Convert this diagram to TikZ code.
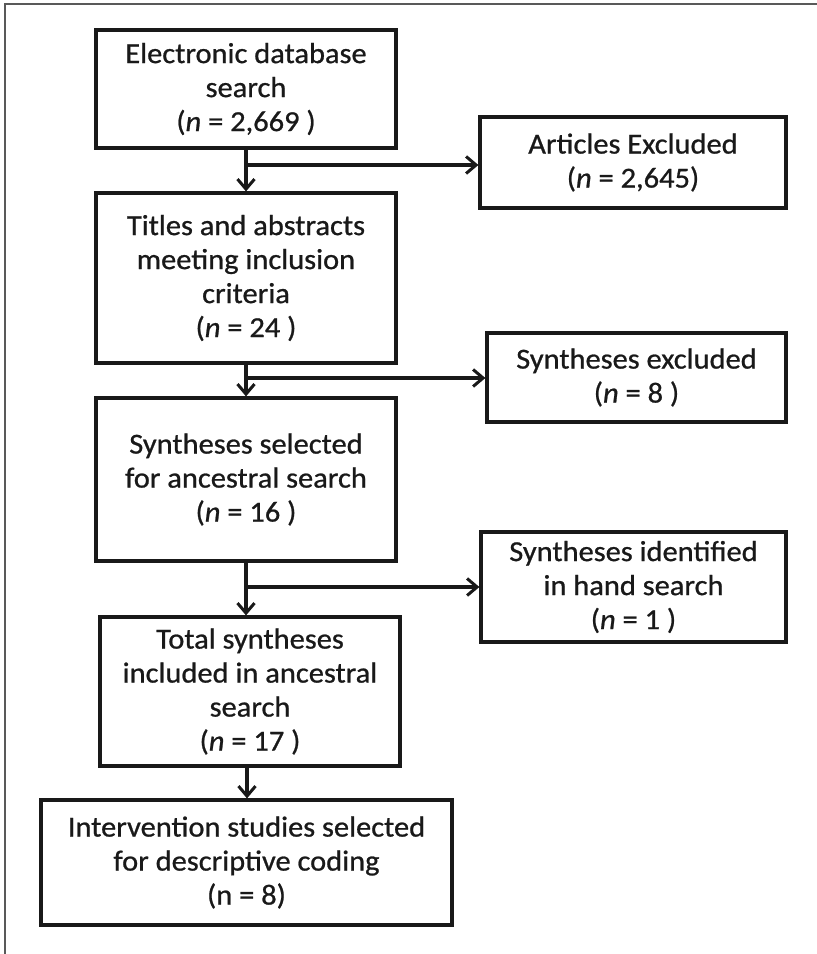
\documentclass[tikz,border=0pt]{standalone}
\usepackage{fontspec}
\setmainfont{Carlito}[FakeStretch=1.05,FakeBold=0.8]
\usetikzlibrary{arrows.meta,calc}
\begin{document}
\begin{tikzpicture}[x=1pt,y=-1pt,
  box/.style={draw=black!90, line width=3.2pt, align=center, inner sep=0pt,
    font=\fontsize{29}{34}\selectfont, text=black!90},
  conn/.style={draw=black!90, line width=3.4pt,
    -{Straight Barb[length=10pt,width=17pt,line width=3pt]}},
  frameline/.style={draw=black!65, line width=2pt}]
\useasboundingbox (0,0) rectangle (817,954);
\draw[frameline] (4.5,954) -- (4.5,4) -- (817,4);

\node[box, minimum width=300pt, minimum height=118pt] (ed) at (246,89)
  {Electronic database\\search\\(\textit{n} = 2,669 )};
\node[box, minimum width=300pt, minimum height=170pt] (ta) at (246,278)
  {Titles and abstracts\\meeting inclusion\\criteria\\(\textit{n} = 24 )};
\node[box, minimum width=300pt, minimum height=163pt] (ss) at (246,479.5)
  {Syntheses selected\\for ancestral search\\(\textit{n} = 16 )};
\node[box, minimum width=300pt, minimum height=149pt] (ts) at (250,691.5)
  {Total syntheses\\included in ancestral\\search\\(\textit{n} = 17 )};
\node[box, minimum width=411pt, minimum height=125pt] (is) at (246.5,862.5)
  {Intervention studies selected\\for descriptive coding\\(n = 8)};

\node[box, minimum width=306pt, minimum height=91pt] (ae) at (633,162.5)
  {Articles Excluded\\(\textit{n} = 2,645)};
\node[box, minimum width=299pt, minimum height=89pt] (se) at (636.5,377.5)
  {Syntheses excluded\\(\textit{n} = 8 )};
\node[box, minimum width=305pt, minimum height=110pt] (hs) at (633.5,587)
  {Syntheses identified\\in hand search\\(\textit{n} = 1 )};

\coordinate (j1) at (246,165);
\coordinate (j2) at (246,378);
\coordinate (j3) at (246,587);

\draw[conn] (ed.south) -- (ta.north);
\draw[conn] (j1) -- (j1 -| ae.west);
\draw[conn] (ta.south) -- (ss.north);
\draw[conn] (j2) -- (j2 -| se.west);
\draw[conn] (ss.south) -- (ss.south |- ts.north);
\draw[conn] (j3) -- (j3 -| hs.west);
\draw[conn] (ts.south -| 247,0) -- (247,0 |- is.north);
\end{tikzpicture}
\end{document}
